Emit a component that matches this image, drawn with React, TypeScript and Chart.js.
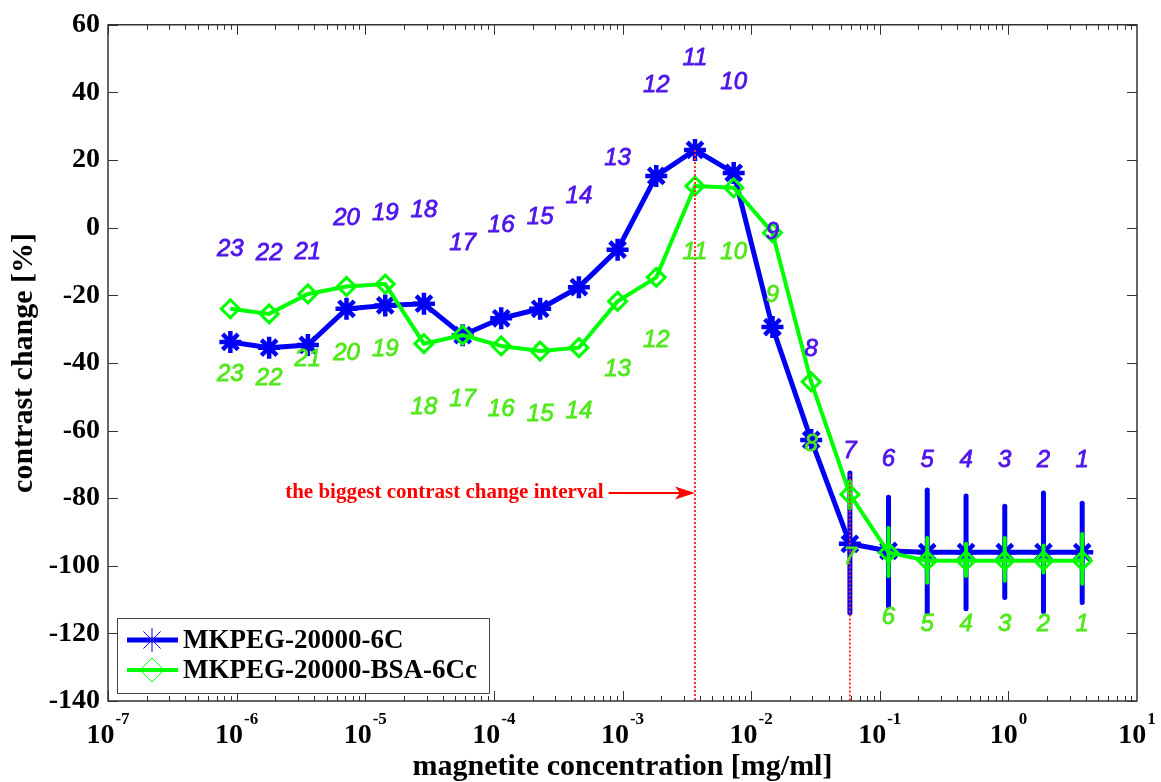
import React, { useEffect, useRef } from 'react';
import { Chart, registerables } from 'chart.js';

Chart.register(...registerables);

// ---------- data (sample number 1..23, highest concentration first) ----------
const sampleIds = [1, 2, 3, 4, 5, 6, 7, 8, 9, 10, 11, 12, 13, 14, 15, 16, 17, 18, 19, 20, 21, 22, 23];
const concentration = [
  3.75, 1.875, 0.9375, 0.46875, 0.234, 0.117, 0.0586, 0.0293, 0.01465, 0.00732, 0.00366, 0.00183,
  0.000916, 0.000458, 0.000229, 0.000114, 5.72e-5, 2.86e-5, 1.43e-5, 7.15e-6, 3.58e-6, 1.79e-6, 8.94e-7,
];
const blueContrast = [
  -96, -96, -96, -96, -96, -95.6, -93.5, -62.8, -29.4, 16.2, 23, 15.3, -6.5, -17.6, -24, -26.8, -31.8,
  -22.5, -23, -24, -34.7, -35.5, -33.8,
];
const greenContrast = [
  -98.5, -98.5, -98.5, -98.5, -98.5, -96.1, -78.9, -45.6, -1.5, 11.8, 12.3, -14.7, -21.8, -35.5, -36.5,
  -35, -31.8, -34.3, -16.7, -17.4, -19.6, -25.5, -24,
];
// error bars for samples 1..7
const blueErrLow = [-110.9, -113.5, -109.4, -112.7, -114, -112, -114];
const blueErrHigh = [-81.5, -78.5, -82.4, -79.4, -77.6, -79.7, -72.6];
const greenErrLow = [-105.3, -102, -104.4, -103, -105, -103, -83];
const greenErrHigh = [-90.6, -94, -91.8, -93.5, -91.8, -88.8, -75];
// sample-number annotation heights (data units)
const blueLabelY = [
  -68.8, -68.8, -68.8, -68.8, -68.8, -68.5, -66.2, -35.9, -1.5, 43, 50, 42, 20.6, 9.4, 3.2, 0.6, -4.7,
  5, 4.1, 2.9, -7.4, -7.6, -6.5,
];
const greenLabelY = [
  -117.4, -117.4, -117.4, -117.4, -117.4, -115.3, -97.6, -64.1, -20, -7.4, -7.4, -33.2, -41.8, -54.4,
  -55.3, -53.8, -50.9, -53.2, -35.9, -37.1, -38.8, -44.7, -43.5,
];
const seriesNames = ['MKPEG-20000-6C', 'MKPEG-20000-BSA-6Cc'];
const xTickExponents = ['-7', '-6', '-5', '-4', '-3', '-2', '-1', '0', '1'];
const intervalSamples = [11, 7];
const intervalTops = [23, -73];
const annotationText = 'the biggest contrast change interval';
const arrowFromX = 7.8e-4;
const arrowY = -78.5;

const SERIF = '"Liberation Serif", "Times New Roman", serif';
const SANS = '"Liberation Sans", Arial, sans-serif';
const BLUE = '#0000f5';
const GREEN = '#00ff00';
const BLUE_TXT = '#5014eb';
const GREEN_TXT = '#50e81a';

function drawStar(ctx: CanvasRenderingContext2D, x: number, y: number, r: number) {
  ctx.beginPath();
  for (let i = 0; i < 4; i++) {
    const a = (i * Math.PI) / 4;
    ctx.moveTo(x - Math.cos(a) * r, y - Math.sin(a) * r);
    ctx.lineTo(x + Math.cos(a) * r, y + Math.sin(a) * r);
  }
  ctx.stroke();
}
function drawDiamond(ctx: CanvasRenderingContext2D, x: number, y: number, r: number) {
  ctx.beginPath();
  ctx.moveTo(x, y - r);
  ctx.lineTo(x + r, y);
  ctx.lineTo(x, y + r);
  ctx.lineTo(x - r, y);
  ctx.closePath();
  ctx.stroke();
}

const decorPlugin = {
  id: 'decor',
  beforeDatasetDraw(chart: any, args: any) {
    const { ctx } = chart;
    const xs = chart.scales.x;
    const ys = chart.scales.y;
    const lows = args.index === 0 ? blueErrLow : greenErrLow;
    const highs = args.index === 0 ? blueErrHigh : greenErrHigh;
    ctx.save();
    ctx.strokeStyle = args.index === 0 ? BLUE : GREEN;
    ctx.lineWidth = args.index === 0 ? 5 : 4;
    ctx.lineCap = 'round';
    for (let i = 0; i < lows.length; i++) {
      const px = xs.getPixelForValue(concentration[i]);
      ctx.beginPath();
      ctx.moveTo(px, ys.getPixelForValue(lows[i]));
      ctx.lineTo(px, ys.getPixelForValue(highs[i]));
      ctx.stroke();
    }
    ctx.restore();
  },
  beforeDatasetsDraw(chart: any) {
    const { ctx, chartArea: ca } = chart;
    const xs = chart.scales.x;
    const ys = chart.scales.y;
    ctx.save();
    ctx.strokeStyle = '#333';
    ctx.lineWidth = 1;
    // inward ticks on x (bottom & top)
    for (let k = -7; k <= 0; k++) {
      for (let m = 1; m <= 9; m++) {
        const v = m * Math.pow(10, k);
        const px = Math.round(xs.getPixelForValue(v)) + 0.5;
        const len = m === 1 ? 10 : 5;
        ctx.beginPath();
        ctx.moveTo(px, ca.bottom);
        ctx.lineTo(px, ca.bottom - len);
        ctx.moveTo(px, ca.top);
        ctx.lineTo(px, ca.top + len);
        ctx.stroke();
      }
    }
    ys.ticks.forEach((t: any) => {
      const py = Math.round(ys.getPixelForValue(t.value)) + 0.5;
      ctx.beginPath();
      ctx.moveTo(ca.left, py);
      ctx.lineTo(ca.left + 10, py);
      ctx.moveTo(ca.right, py);
      ctx.lineTo(ca.right - 10, py);
      ctx.stroke();
    });
    ctx.restore();
  },
  afterDatasetsDraw(chart: any) {
    const { ctx, chartArea: ca } = chart;
    const xs = chart.scales.x;
    const ys = chart.scales.y;
    ctx.save();
    // red dotted interval lines
    ctx.strokeStyle = '#ff2a2a';
    ctx.lineWidth = 2;
    ctx.setLineDash([2, 2]);
    intervalSamples.forEach((s, i) => {
      const px = xs.getPixelForValue(concentration[s - 1]);
      ctx.beginPath();
      ctx.moveTo(px, ys.getPixelForValue(intervalTops[i]));
      ctx.lineTo(px, ca.bottom);
      ctx.stroke();
    });
    ctx.setLineDash([]);
    // arrow + annotation
    const tipX = xs.getPixelForValue(concentration[intervalSamples[0] - 1]);
    const tailX = xs.getPixelForValue(arrowFromX);
    const ay = ys.getPixelForValue(arrowY);
    ctx.strokeStyle = '#ff0000';
    ctx.fillStyle = '#ff0000';
    ctx.lineWidth = 2;
    ctx.beginPath();
    ctx.moveTo(tailX, ay);
    ctx.lineTo(tipX - 10, ay);
    ctx.stroke();
    ctx.beginPath();
    ctx.moveTo(tipX, ay);
    ctx.lineTo(tipX - 20, ay - 6.5);
    ctx.lineTo(tipX - 15, ay);
    ctx.lineTo(tipX - 20, ay + 6.5);
    ctx.closePath();
    ctx.fill();
    ctx.font = `bold 21px ${SERIF}`;
    ctx.textAlign = 'right';
    ctx.textBaseline = 'middle';
    ctx.fillText(annotationText, tailX - 5, ay);

    // sample number labels
    ctx.font = `italic 24px ${SANS}`;
    ctx.textAlign = 'center';
    ctx.textBaseline = 'middle';
    ctx.lineWidth = 0.8;
    ctx.lineJoin = 'round';
    sampleIds.forEach((id, i) => {
      const px = xs.getPixelForValue(concentration[i]);
      const by = ys.getPixelForValue(blueLabelY[i]);
      const gy = ys.getPixelForValue(greenLabelY[i]);
      ctx.fillStyle = BLUE_TXT;
      ctx.strokeStyle = BLUE_TXT;
      ctx.fillText(String(id), px, by);
      ctx.strokeText(String(id), px, by);
      ctx.fillStyle = GREEN_TXT;
      ctx.strokeStyle = GREEN_TXT;
      ctx.fillText(String(id), px, gy);
      ctx.strokeText(String(id), px, gy);
    });

    // frame
    ctx.strokeStyle = '#333';
    ctx.lineWidth = 1.5;
    ctx.strokeRect(ca.left, ca.top, ca.right - ca.left, ca.bottom - ca.top);

    // legend
    const lx = ca.left + 9;
    const ly = ca.bottom - 83;
    ctx.fillStyle = '#fff';
    ctx.fillRect(lx, ly, 372, 75);
    ctx.strokeStyle = '#444';
    ctx.lineWidth = 1;
    ctx.strokeRect(lx + 0.5, ly + 0.5, 372, 75);
    const rows = [ly + 22, ly + 52];
    const colors = [BLUE, GREEN];
    const widths = [5, 4];
    rows.forEach((ry, i) => {
      ctx.strokeStyle = colors[i];
      ctx.lineWidth = widths[i];
      ctx.beginPath();
      ctx.moveTo(lx + 10, ry);
      ctx.lineTo(lx + 61, ry);
      ctx.stroke();
      ctx.lineWidth = 1;
      if (i === 0) drawStar(ctx, lx + 35, ry, 12);
      else drawDiamond(ctx, lx + 35, ry, 12);
      ctx.fillStyle = '#000';
      ctx.font = `bold 27px ${SERIF}`;
      ctx.textAlign = 'left';
      ctx.textBaseline = 'middle';
      ctx.fillText(seriesNames[i], lx + 66, ry + 1);
    });

    // x tick labels with superscripts
    ctx.fillStyle = '#000';
    ctx.textAlign = 'left';
    ctx.textBaseline = 'alphabetic';
    xTickExponents.forEach((e) => {
      const px = xs.getPixelForValue(Math.pow(10, Number(e)));
      ctx.font = `bold 28px ${SERIF}`;
      const w1 = ctx.measureText('10').width;
      ctx.font = `bold 17px ${SERIF}`;
      const w2 = ctx.measureText(e).width;
      const start = px - (w1 + w2 + 1) / 2;
      ctx.font = `bold 28px ${SERIF}`;
      ctx.fillText('10', start, ca.bottom + 42);
      ctx.font = `bold 17px ${SERIF}`;
      ctx.fillText(e, start + w1 + 1, ca.bottom + 23);
    });
    ctx.restore();
  },
};

export default function App() {
  const ref = useRef<HTMLCanvasElement | null>(null);
  useEffect(() => {
    if (!ref.current) return;
    const blueData = concentration.map((c, i) => ({ x: c, y: blueContrast[i] }));
    const greenData = concentration.map((c, i) => ({ x: c, y: greenContrast[i] }));
    const chart = new Chart(ref.current, {
      type: 'line',
      data: {
        datasets: [
          {
            label: seriesNames[0],
            data: blueData,
            borderColor: BLUE,
            backgroundColor: BLUE,
            borderWidth: 5,
            pointStyle: 'star',
            pointRadius: 11,
            pointBorderWidth: 4.5,
            pointBorderColor: BLUE,
            tension: 0,
            order: 1,
          },
          {
            label: seriesNames[1],
            data: greenData,
            borderColor: GREEN,
            backgroundColor: 'rgba(0,0,0,0)',
            borderWidth: 4,
            pointStyle: 'rectRot',
            pointRadius: 9,
            pointBorderWidth: 3,
            pointBorderColor: GREEN,
            pointBackgroundColor: 'rgba(0,0,0,0)',
            tension: 0,
            order: 0,
          },
        ],
      },
      options: {
        animation: false,
        responsive: false,
        devicePixelRatio: 1,
        layout: { padding: { top: 21, right: 24, left: 0, bottom: 0 } },
        plugins: { legend: { display: false }, tooltip: { enabled: false } },
        scales: {
          x: {
            type: 'logarithmic',
            position: 'bottom',
            min: 1e-7,
            max: 10,
            grid: { display: false, drawTicks: false },
            border: { display: false },
            ticks: { display: false },
            title: {
              display: true,
              text: 'magnetite concentration [mg/ml]',
              color: '#000',
              font: { family: SERIF, size: 30, weight: 'bold', lineHeight: 1 },
              padding: 0,
            },
            afterFit: (s: any) => {
              s.height = 81;
            },
          },
          y: {
            type: 'linear',
            position: 'left',
            min: -140,
            max: 60,
            grid: { display: false, drawTicks: false },
            border: { display: false },
            ticks: {
              stepSize: 20,
              color: '#000',
              padding: 8,
              font: { family: SERIF, size: 28, weight: 'bold' },
            },
            title: {
              display: true,
              text: 'contrast change [%]',
              color: '#000',
              font: { family: SERIF, size: 30, weight: 'bold', lineHeight: 1 },
              padding: { top: 9, bottom: 0 },
            },
            afterFit: (s: any) => {
              s.width = 108;
            },
          },
        },
      } as any,
      plugins: [decorPlugin],
    });
    return () => chart.destroy();
  }, []);
  return (
    <div style={{ position: 'fixed', left: 0, top: 0, width: 1161, height: 782, background: '#fff' }}>
      <canvas ref={ref} width={1161} height={782} style={{ display: 'block' }} />
    </div>
  );
}
